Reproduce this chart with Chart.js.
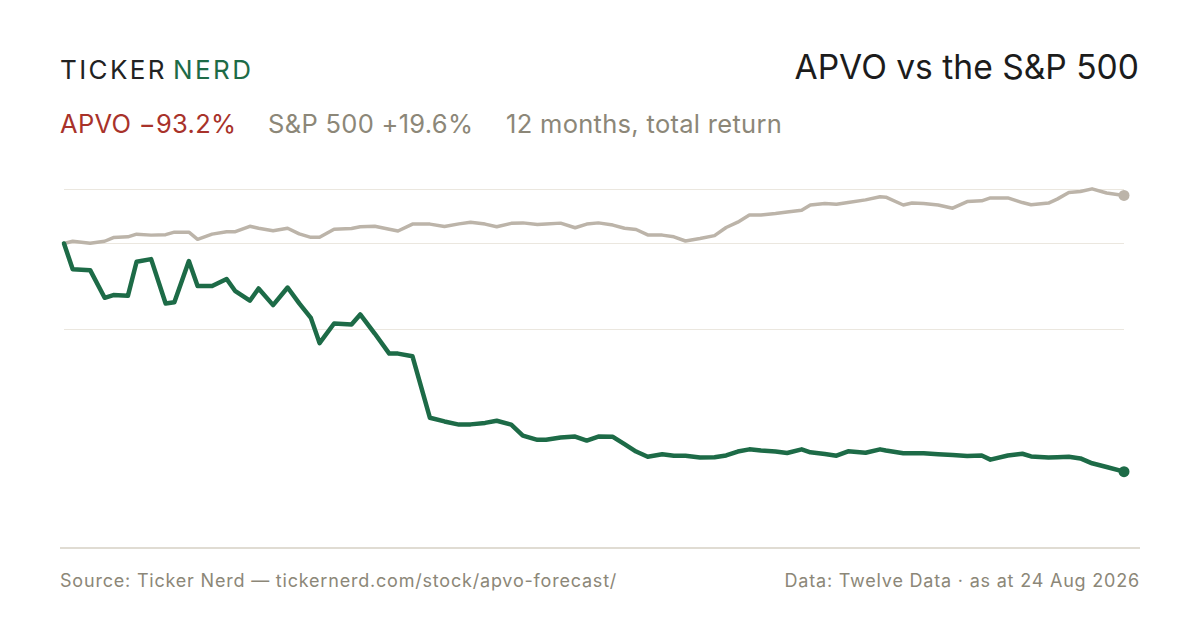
<!DOCTYPE html>
<html>
<head>
<meta charset="utf-8">
<script src="https://cdn.jsdelivr.net/npm/chart.js@4.4.1/dist/chart.umd.min.js"></script>
<style>
  html, body { margin: 0; padding: 0; background: #ffffff; }
  body { width: 1200px; height: 630px; position: relative; overflow: hidden; font-family: Inter, "Noto Sans", sans-serif; }
  .brand { position: absolute; left: 60px; top: 57px; font-size: 26px; line-height: 1; letter-spacing: 2.4px; color: #222222; }
  .brand .nerd { color: #1d6b47; margin-left: 6px; }
  .title { position: absolute; right: 61px; top: 50px; font-size: 33.6px; line-height: 1; color: #1c1c1c; }
  .sub { position: absolute; top: 111px; font-size: 25.5px; line-height: 1; letter-spacing: 0.3px; color: #8c8778; white-space: nowrap; }
  .sub.apvo { left: 60px; color: #a8322a; }
  .sub.spx { left: 268px; }
  .sub.period { left: 506px; }
  .rule { position: absolute; left: 60px; top: 547px; width: 1080px; height: 2px; background: #e0dcd3; }
  .foot { position: absolute; top: 572px; font-size: 18px; line-height: 1; letter-spacing: 0.8px; color: #8c8778; white-space: nowrap; }
  .foot.left { left: 60px; }
  .foot.right { right: 60px; }
  #wrap { position: absolute; left: 56px; top: 170px; width: 1076px; height: 355px; }
</style>
</head>
<body>
<div class="brand">TICKER<span class="nerd">NERD</span></div>
<div class="title">APVO vs the S&amp;P 500</div>
<div class="sub apvo">APVO −93.2%</div>
<div class="sub spx">S&amp;P 500 +19.6%</div>
<div class="sub period">12 months, total return</div>
<div id="wrap"><canvas id="chart"></canvas></div>
<div class="rule"></div>
<div class="foot left">Source: Ticker Nerd — tickernerd.com/stock/apvo-forecast/</div>
<div class="foot right">Data: Twelve Data · as at 24 Aug 2026</div>

<script>
// Days since start of the 12-month window (shared by both series)
const days = [
  0, 3, 9, 14, 17, 22, 25, 30, 35, 38, 43, 46, 51, 56, 59, 64, 67, 72, 77, 81,
  85, 88, 93, 99, 102, 107, 112, 115, 120, 126, 131, 136, 140, 145, 149, 154, 158, 163, 166, 171,
  176, 180, 184, 189, 193, 197, 201, 206, 210, 214, 219, 224, 228, 232, 236, 240, 245, 249, 254, 257,
  262, 266, 270, 276, 281, 283, 289, 292, 296, 301, 306, 311, 316, 319, 325, 330, 333, 339, 342, 346,
  350, 354, 359, 365
];

// Cumulative total return, %
const apvoReturn = [
  0, -10.5, -10.9, -22.2, -21.1, -21.4, -7.5, -6.4, -24.5, -24.0, -7.2, -17.4, -17.4, -14.5, -19.5, -23.4, -18.4, -25.2, -18.0, -24.5,
  -30.4, -40.7, -32.7, -33.1, -29.0, -36.8, -45.0, -45.0, -46.1, -71.2, -72.7, -74.0, -73.9, -73.3, -72.4, -74.0, -78.5, -80.2, -80.2, -79.3,
  -78.9, -80.5, -78.9, -79.0, -82.0, -85.0, -87.1, -86.1, -86.7, -86.7, -87.4, -87.3, -86.6, -85.0, -84.1, -84.6, -85.0, -85.6, -84.1, -85.3,
  -86.0, -86.7, -84.9, -85.5, -84.1, -84.6, -85.7, -85.7, -85.7, -86.1, -86.4, -86.8, -86.6, -88.3, -86.6, -85.9, -87.0, -87.4, -87.3, -87.1,
  -87.8, -89.8, -91.3, -93.2
];

const spxReturn = [
  0, 0.9, 0.1, 0.9, 2.4, 2.7, 3.8, 3.4, 3.6, 4.6, 4.6, 1.7, 3.8, 4.8, 4.8, 7.0, 6.2, 5.2, 6.2, 3.9,
  2.5, 2.5, 5.8, 6.1, 6.8, 7.0, 5.8, 5.1, 7.9, 7.9, 6.9, 8.0, 8.7, 7.9, 6.8, 8.2, 8.4, 7.7, 7.9, 8.3,
  6.4, 7.9, 8.4, 7.5, 6.2, 5.7, 3.5, 3.4, 2.7, 1.0, 2.0, 3.2, 6.5, 8.7, 11.6, 11.6, 12.2, 12.8, 13.6, 15.7,
  16.3, 16.0, 16.7, 17.8, 19.1, 18.9, 15.7, 16.5, 16.3, 15.7, 14.4, 17.1, 17.4, 18.6, 18.6, 16.7, 15.8, 16.5, 18.1, 20.8,
  21.2, 22.3, 20.6, 19.6
];

// Horizontal guide lines, %
const gridValues = [22, 0, -35];

function toPoints(values) {
  return values.map((v, i) => ({ x: days[i], y: v }));
}

// only the final point gets a dot
function lastDot(ctx) {
  return ctx.dataIndex === ctx.dataset.data.length - 1 ? 5.5 : 0;
}

const ctx = document.getElementById('chart').getContext('2d');
const chart = new Chart(ctx, {
  type: 'line',
  data: {
    datasets: [{
      label: 'APVO',
      data: toPoints(apvoReturn),
      borderColor: '#1d6b47',
      backgroundColor: '#1d6b47',
      borderWidth: 4.5,
      pointRadius: lastDot,
      pointHoverRadius: lastDot,
      pointBorderWidth: 0,
      tension: 0,
      borderJoinStyle: 'round',
      borderCapStyle: 'round',
      clip: false
    }, {
      label: 'S&P 500',
      data: toPoints(spxReturn),
      borderColor: '#bcb4a9',
      backgroundColor: '#bcb4a9',
      borderWidth: 3.5,
      pointRadius: lastDot,
      pointHoverRadius: lastDot,
      pointBorderWidth: 0,
      tension: 0,
      borderJoinStyle: 'round',
      borderCapStyle: 'round',
      clip: false
    }]
  },
  options: {
    responsive: true,
    maintainAspectRatio: false,
    animation: false,
    layout: { autoPadding: false, padding: { left: 8, right: 8, top: 0, bottom: 0 } },
    plugins: {
      legend: { display: false },
      tooltip: { enabled: false }
    },
    scales: {
      x: {
        type: 'linear',
        min: 0,
        max: 365,
        display: false
      },
      y: {
        min: -115,
        max: 30,
        afterBuildTicks: (scale) => {
          scale.ticks = gridValues.map(v => ({ value: v }));
        },
        ticks: { display: false },
        border: { display: false },
        grid: { color: '#ebe7df', lineWidth: 1, drawTicks: false }
      }
    }
  }
});
</script>
</body>
</html>
